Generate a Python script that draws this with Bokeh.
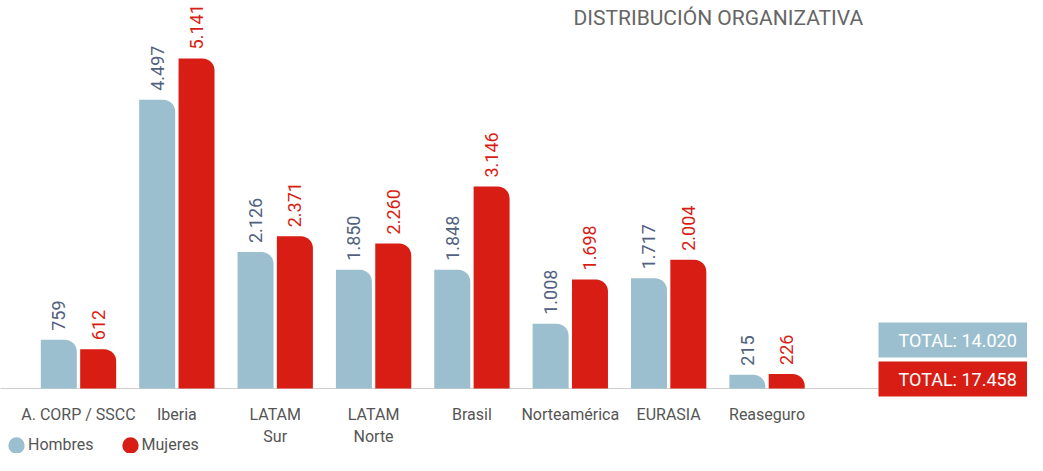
import numpy as np
from bokeh.plotting import figure
from bokeh.models import ColumnDataSource, Legend, LegendItem, Range1d
from bokeh.core.properties import value
from bokeh.embed import file_html
from bokeh.resources import INLINE

# ---------------- data ----------------
categories = ["A. CORP / SSCC", "Iberia", "LATAM\nSur", "LATAM\nNorte", "Brasil",
              "Norteamérica", "EURASIA", "Reaseguro"]
hombres = [759, 4497, 2126, 1850, 1848, 1008, 1717, 215]
mujeres = [612, 5141, 2371, 2260, 3146, 1698, 2004, 226]
series_names = ["Hombres", "Mujeres"]
title_text = "DISTRIBUCIÓN ORGANIZATIVA"


def fmt(v):
    return f"{v:,}".replace(",", ".")


# ---------------- style ----------------
BLUE = "#9bbfcf"
RED = "#d81e14"
BLUE_TXT = "#51617f"
GREY = "#555555"
TITLE_GREY = "#666666"
FONT = "Roboto"

FW, FH = 1027, 455          # frame size in px (whole figure)
GROUP_PX = 98.36            # px per category step
K = 0.0642                  # px per unit on y
BASE_PX = 388               # baseline position from top of frame
x_start = -78 / GROUP_PX
x_range = Range1d(x_start, x_start + FW / GROUP_PX)
y_range = Range1d(-(FH - BASE_PX) / K, BASE_PX / K)

DODGE = 0.2
BAR_W = 36 / GROUP_PX
LABEL_GAP = 9 / K
BASE_END = (878 - 78) / GROUP_PX

p = figure(frame_width=FW, frame_height=FH, x_range=x_range, y_range=y_range,
           output_backend="svg", toolbar_location=None, y_axis_location=None,
           x_axis_location=None,
           min_border=0, min_border_left=0, min_border_right=0, min_border_top=0,
           min_border_bottom=0, background_fill_color="white",
           border_fill_color="white")
p.outline_line_color = None
p.grid.visible = False

idx = np.arange(len(categories))
src = ColumnDataSource(dict(
    x=idx, xh=idx - DODGE, xm=idx + DODGE,
    h=hombres, m=mujeres,
    yh=[v + LABEL_GAP for v in hombres],
    ym=[v + LABEL_GAP for v in mujeres],
    th=[fmt(v) for v in hombres],
    tm=[fmt(v) for v in mujeres],
    cat=categories,
))

# baseline
p.segment(x0=[x_start - 1], x1=[BASE_END], y0=[0], y1=[0], line_color="#cfcfcf", line_width=1)

p.vbar(x="xh", top="h", bottom=0, width=BAR_W, source=src, fill_color=BLUE,
       line_color=None, border_radius=(0, 12, 0, 0))
p.vbar(x="xm", top="m", bottom=0, width=BAR_W, source=src, fill_color=RED,
       line_color=None, border_radius=(0, 12, 0, 0))

p.text(x="xh", y="yh", text="th", source=src, angle=np.pi / 2, text_align="left",
       text_baseline="middle", text_font=value(FONT), text_font_size="18px",
       text_color=BLUE_TXT)
p.text(x="xm", y="ym", text="tm", source=src, angle=np.pi / 2, text_align="left",
       text_baseline="middle", text_font=value(FONT), text_font_size="18px",
       text_color=RED)

# category labels (x axis)
p.text(x="x", y=-(404 - BASE_PX) / K, text="cat", source=src, text_align="center",
       text_baseline="top", text_font=value(FONT), text_font_size="16px",
       text_color=GREY, text_line_height=1.2)

# totals boxes
tot_h, tot_m = sum(hombres), sum(mujeres)
p.quad(left=[BASE_END], right=[BASE_END + 5], top=[(BASE_PX - 322) / K],
       bottom=[(BASE_PX - 357) / K], fill_color=BLUE, line_color=None)
p.quad(left=[BASE_END], right=[BASE_END + 5], top=[(BASE_PX - 361) / K],
       bottom=[(BASE_PX - 396) / K], fill_color=RED, line_color=None)
p.text(x=[BASE_END + 20 / GROUP_PX] * 2,
       y=[(BASE_PX - 339.5) / K, (BASE_PX - 378.5) / K],
       text=[f"TOTAL: {fmt(tot_h)}", f"TOTAL: {fmt(tot_m)}"],
       text_align="left", text_baseline="middle", text_font=value(FONT),
       text_font_size="18px", text_color="white")

# title
p.text(x=[(573 - 78) / GROUP_PX], y=[(BASE_PX - 17) / K], text=[title_text],
       text_align="left", text_baseline="alphabetic", text_font=value(FONT),
       text_font_size="21px", text_color=TITLE_GREY)

# legend (marker renderers with one off-range point so the legend draws the swatch)
r_h = p.scatter(x=[-100.0], y=[-1e6], marker="circle", size=7, fill_color=BLUE,
                line_color=BLUE, line_width=10)
r_m = p.scatter(x=[-100.0], y=[-1e6], marker="circle", size=7, fill_color=RED,
                line_color=RED, line_width=10)
legend = Legend(items=[LegendItem(label=series_names[0], renderers=[r_h]),
                       LegendItem(label=series_names[1], renderers=[r_m])],
                orientation="horizontal", location=(7, 1),
                glyph_width=18, glyph_height=16, label_height=16, label_standoff=3,
                spacing=27, padding=0, margin=0, border_line_color=None,
                background_fill_alpha=0,
                label_text_font=FONT, label_text_font_size="16px",
                label_text_color=GREY)
p.add_layout(legend, "center")

open("out.html", "w").write(file_html(p, INLINE))
